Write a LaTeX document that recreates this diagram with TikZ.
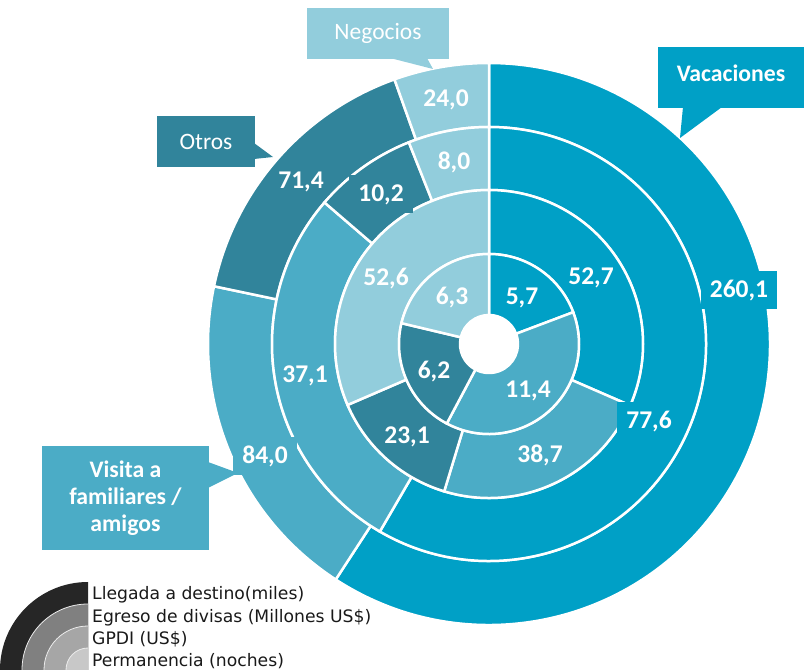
\documentclass[tikz,border=0pt]{standalone}
\usepackage{fontspec}
\setmainfont{Carlito}
\newfontfamily\legendfont{DejaVu Sans}

\definecolor{vac}{HTML}{00A0C6}
\definecolor{vis}{HTML}{4BACC6}
\definecolor{otr}{HTML}{31849B}
\definecolor{neg}{HTML}{92CDDC}
\definecolor{legA}{HTML}{262626}
\definecolor{legB}{HTML}{808080}
\definecolor{legC}{HTML}{A6A6A6}
\definecolor{legD}{HTML}{C8C8C8}

\tikzset{
  seg/.style={fill=#1, draw=white, line width=2.5pt},
  numlbl/.style={fill=#1, text=white, inner xsep=3pt, inner ysep=3pt,
    text height=16pt, text depth=0pt,
    font=\fontsize{25.5}{30}\selectfont\bfseries},
  numwide/.style={numlbl=#1, inner xsep=9pt, inner ysep=11pt},
  tagbox/.style={fill=#1, text=white, align=center, inner sep=0pt},
  legtext/.style={anchor=base west, inner sep=0pt, text=black!90,
    font=\legendfont\fontsize{17.2}{20}\selectfont},
}

\begin{document}
\begin{tikzpicture}[x=1pt, y=1pt]
  \useasboundingbox (0,0) rectangle (804,670);

  % rings, outer to inner
  \begin{scope}[shift={(489,326)}]
    \foreach \ri/\ro/\a/\b/\c in {
        217/281/90/-123.05/vac, 217/281/-123.05/-191.86/vis,
        217/281/-191.86/-250.34/otr, 217/281/-250.34/-270/neg,
        154/217/90/-120.20/vac, 154/217/-120.20/-220.70/vis,
        154/217/-220.70/-248.33/otr, 154/217/-248.33/-270/neg,
        90/154/90/-23.53/vac, 90/154/-23.53/-106.91/vis,
        90/154/-106.91/-156.68/otr, 90/154/-156.68/-270/neg,
        29/90/90/20.68/vac, 29/90/20.68/-117.97/vis,
        29/90/-117.97/-193.38/otr, 29/90/-193.38/-270/neg} {
      \path[seg=\c] (\a:\ri) arc[start angle=\a, end angle=\b, radius=\ri]
        -- (\b:\ro) arc[start angle=\b, end angle=\a, radius=\ro] -- cycle;
    }
  \end{scope}

  % values
  \node[numwide=vac] (v1) at (739,380) {260,1};
  \node[numwide=vis] (v2) at (265,214) {84,0};
  \node[numlbl=otr] (v3) at (301,489) {71,4};
  \node[numlbl=neg] (v4) at (446,571) {24,0};
  \node[numwide=vac] (e1) at (649,249) {77,6};
  \node[numlbl=vis] (e2) at (305,295) {37,1};
  \node[numwide=otr] (e3) at (381,476) {10,2};
  \node[numlbl=neg] (e4) at (454,508) {8,0};
  \node[numlbl=vac] (g1) at (591,393) {52,7};
  \node[numlbl=vis] (g2) at (540,215) {38,7};
  \node[numlbl=otr] (g3) at (407,234) {23,1};
  \node[numlbl=neg] (g4) at (386,392) {52,6};
  \node[numlbl=vac] (p1) at (522,373) {5,7};
  \node[numlbl=vis] (p2) at (528,280) {11,4};
  \node[numlbl=otr] (p3) at (434,299) {6,2};
  \node[numlbl=neg] (p4) at (452,373) {6,3};

  % callouts
  \fill[neg] (390,612) -- (433,601) -- (427,612) -- cycle;
  \node[tagbox=neg, minimum width=142pt, minimum height=51pt,
    font=\fontsize{23.5}{27}\selectfont] (negocios) at (378,636.5) {Negocios};
  \fill[vac] (683,563) -- (680,532) -- (722,563) -- cycle;
  \node[tagbox=vac, minimum width=146pt, minimum height=61pt, text depth=9pt,
    font=\fontsize{23.7}{27}\selectfont\bfseries] (vacaciones) at (731,592.5) {Vacaciones};
  \fill[otr] (254,527) -- (273,513) -- (254,511) -- cycle;
  \node[tagbox=otr, minimum width=98pt, minimum height=51pt,
    font=\fontsize{23.5}{27}\selectfont] (otros) at (206,528.5) {Otros};
  \fill[vis] (208,208) -- (238,197) -- (208,182) -- cycle;
  \node[tagbox=vis, minimum width=167pt, minimum height=104pt,
    font=\fontsize{23.7}{27}\selectfont\bfseries] (visita) at (125.5,172)
    {Visita a\\familiares /\\amigos};

  % legend
  \foreach \r/\c in {88/legA, 66/legB, 44/legC, 22/legD}
    \fill[\c] (88,0) -- (88-\r,0) arc[start angle=180, end angle=90, radius=\r] -- cycle;
  \foreach \r in {66, 44, 22}
    \draw[white!85!gray, line width=.8pt] (88-\r,0) arc[start angle=180, end angle=90, radius=\r];
  \node[legtext] (leg1) at (92,70) {Llegada a destino(miles)};
  \node[legtext] (leg2) at (92,47) {Egreso de divisas (Millones US\$)};
  \node[legtext] (leg3) at (92,25) {GPDI (US\$)};
  \node[legtext] (leg4) at (92,3) {Permanencia (noches)};
\end{tikzpicture}
\end{document}
